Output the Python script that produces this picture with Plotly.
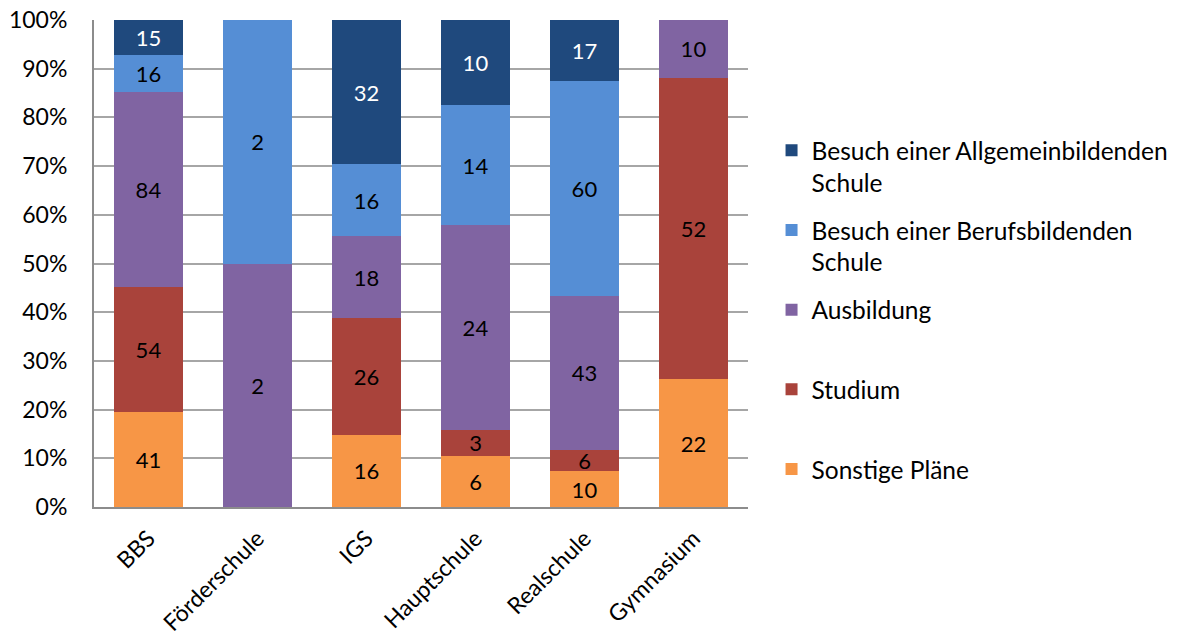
import plotly.graph_objects as go

categories = ["BBS", "Förderschule", "IGS", "Hauptschule", "Realschule", "Gymnasium"]
sonstige = [41, 0, 16, 6, 10, 22]
studium = [54, 0, 26, 3, 6, 52]
ausbildung = [84, 2, 18, 24, 43, 10]
berufsbildend = [16, 2, 16, 14, 60, 0]
allgemein = [15, 0, 32, 10, 17, 0]

series = [
    ("Sonstige Pläne<br> ", sonstige, "#F79646", "black"),
    ("Studium<br> ", studium, "#A9433B", "black"),
    ("Ausbildung<br> ", ausbildung, "#8064A2", "black"),
    ("Besuch einer Berufsbildenden<br>Schule", berufsbildend, "#558ED5", "black"),
    ("Besuch einer Allgemeinbildenden<br>Schule", allgemein, "#1F497D", "white"),
]

FONT = "Lato, Calibri, Carlito, sans-serif"

fig = go.Figure()
n = len(series)
for i, (name, vals, color, tcolor) in enumerate(series):
    fig.add_trace(go.Bar(
        x=categories, y=vals, name=name,
        marker=dict(color=color, line=dict(width=0)),
        text=[str(v) if v else "" for v in vals],
        textposition="inside", insidetextanchor="middle",
        textangle=0,
        textfont=dict(color=tcolor, size=22, family=FONT),
        legendgroup=str(i),
        legendrank=n - i,
    ))

fig.update_layout(
    barmode="stack", barnorm="percent", bargap=0.36,
    width=1186, height=639,
    margin=dict(l=94, r=438, t=20, b=132, autoexpand=False),
    plot_bgcolor="white", paper_bgcolor="white",
    font=dict(family=FONT, size=22, color="black"),
    uniformtext=dict(minsize=22, mode="show"),
    showlegend=True,
    legend=dict(
        x=1.036, xanchor="left", y=0.372, yanchor="middle",
        traceorder="grouped", tracegroupgap=13, valign="top",
        font=dict(size=24.5, family=FONT),
        itemwidth=30,
    ),
    xaxis=dict(tickangle=-45, showline=True, linecolor="#8C8C8C", linewidth=2,
               tickfont=dict(size=23), ticks="", automargin=False,
               ticklabelstandoff=7),
    yaxis=dict(range=[0, 100], dtick=10, ticksuffix="%", showgrid=True,
               gridcolor="#A6A6A6", gridwidth=1.5, showline=True,
               linecolor="#8C8C8C", linewidth=2, tickfont=dict(size=23),
               ticks="", zeroline=False, automargin=False,
               ticklabelstandoff=20),
)

fig.write_html("out.html", config={"displayModeBar": False},
               post_script="document.body.style.margin='0';document.body.style.overflow='hidden';")
